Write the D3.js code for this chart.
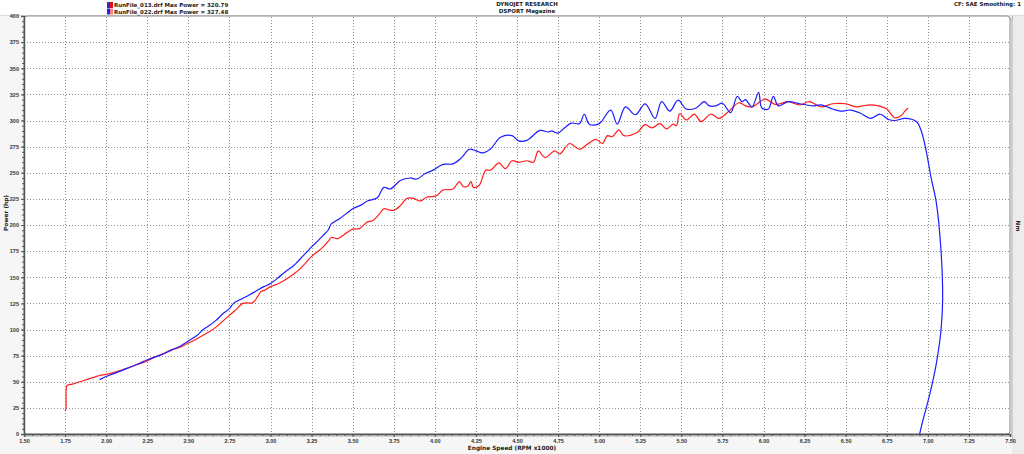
<!DOCTYPE html>
<html><head><meta charset="utf-8">
<script src="https://cdn.jsdelivr.net/npm/d3@7"></script>
<style>
html,body{margin:0;padding:0;background:#fff;}
svg{display:block;font-family:"DejaVu Sans",Verdana,sans-serif;}
</style></head>
<body>
<svg id="c" width="1024" height="454"></svg>
<script>
// ---- data ----
const run013Rpm = [1.750,1.755,1.760,1.770,1.800,1.840,1.880,1.920,1.960,2.000,2.050,2.100,2.130,2.180,2.250,2.300,2.350,2.390,2.450,2.500,2.550,2.590,2.630,2.670,2.710,2.750,2.790,2.830,2.860,2.890,2.920,2.940,2.970,3.000,3.050,3.100,3.140,3.180,3.210,3.250,3.300,3.320,3.350,3.370,3.410,3.450,3.500,3.540,3.590,3.620,3.660,3.690,3.720,3.750,3.790,3.830,3.870,3.910,3.950,4.010,4.050,4.110,4.150,4.170,4.200,4.220,4.235,4.270,4.310,4.340,4.390,4.430,4.470,4.510,4.560,4.600,4.630,4.670,4.730,4.760,4.820,4.880,4.930,4.980,5.020,5.050,5.080,5.120,5.150,5.230,5.280,5.320,5.370,5.410,5.450,5.470,5.490,5.530,5.580,5.620,5.680,5.730,5.790,5.850,5.890,5.930,6.010,6.070,6.100,6.150,6.220,6.280,6.350,6.420,6.500,6.560,6.600,6.650,6.700,6.750,6.800,6.840,6.860,6.880];
const run013Hp  = [22,24,46,47,48,50,52,54,56,57,59,61.5,63,66,70,74,77,80,83,87,91,94.5,98,102.5,108,113.5,119,125,125.5,125.5,131,136,138,141,144,148.5,153,158,163,170,176,179,184,188,187,191,196,196.5,203,204,210,215.5,214.5,214,218.5,225.5,225.5,223,226.5,228,233.5,234.5,241.5,237,237,241.5,236,238,252.5,252.5,259.5,254,261.5,260,261.5,260,271,264.5,271,268,278,272.5,277.5,282,278,285.5,284.5,291,285.5,288.5,296,293,297,292,296.5,295,306.5,300.5,306,299,306,302,309,317,314,313,320.5,315.5,316,318,315,318,313,316,316,313,314,315,314,311,302.5,305,309,312];
const run022Rpm = [1.960,2.000,2.050,2.130,2.200,2.250,2.330,2.400,2.450,2.500,2.550,2.590,2.630,2.670,2.710,2.750,2.775,2.820,2.870,2.920,2.960,3.000,3.050,3.100,3.140,3.180,3.220,3.250,3.290,3.320,3.350,3.370,3.420,3.470,3.500,3.550,3.590,3.650,3.690,3.730,3.790,3.850,3.890,3.940,3.990,4.050,4.110,4.160,4.210,4.250,4.290,4.340,4.400,4.470,4.510,4.560,4.640,4.690,4.710,4.750,4.790,4.830,4.880,4.910,4.940,5.000,5.070,5.110,5.160,5.220,5.280,5.340,5.380,5.430,5.480,5.530,5.590,5.640,5.670,5.710,5.750,5.800,5.840,5.870,5.890,5.930,5.970,5.990,6.030,6.060,6.090,6.150,6.220,6.300,6.350,6.420,6.470,6.530,6.590,6.650,6.710,6.760,6.800,6.860,6.930,6.960,6.990,7.020,7.050,7.080,7.090,7.080,7.050,7.010,6.970,6.950];
const run022Hp  = [52,55,58,63,67.5,71,75.5,80.5,84,89,94,100,104,109,115,120,125,129,133,137.5,141,144,150,156.5,161,167.5,174,179,185,190,195,201,206,212,215.5,219,223,226,236,234.5,242.5,245,244,249,252.5,258,258.5,264,272.5,271,269,273,284,285.5,280.5,281,290.5,289,290,288,293,297.5,297,306,296.5,297,310,296.5,313,305.5,316,302,318,309,319.5,311,312,318,314,314,316.5,307.5,323,318,320,313,327,312,311,323,314,318,316,314,315,311,309,310,307,302,306,301,300,302,299,290,271,245,223,176,128,99,66,37,13,0];
const xTicks = [1.50,1.75,2.00,2.25,2.50,2.75,3.00,3.25,3.50,3.75,4.00,4.25,4.50,4.75,5.00,5.25,5.50,5.75,6.00,6.25,6.50,6.75,7.00,7.25,7.50];
const yTicks = [0,25,50,75,100,125,150,175,200,225,250,275,300,325,350,375,400];
const legendNames = ["RunFile_013.drf Max Power = 320.79","RunFile_022.drf Max Power = 327.48"];
const seriesColors = ["#ff1c1c","#1c1cff"];

// ---- layout ----
const svg = d3.select("#c");
const L = 24, R = 1010, T = 16, B = 434;
const x = d3.scaleLinear().domain([1.5,7.5]).range([L,R]);
const y = d3.scaleLinear().domain([0,400]).range([B,T]);

// backgrounds
svg.append("rect").attr("width",1024).attr("height",454).attr("fill","#f6f6f6");
svg.append("rect").attr("width",1024).attr("height",15).attr("fill","#ffffff");
svg.append("line").attr("x1",0).attr("x2",1024).attr("y1",15.5).attr("y2",15.5).attr("stroke","#dcdcdc");
// right panel
svg.append("rect").attr("x",1012).attr("y",16).attr("width",12).attr("height",438).attr("fill","#ececec");
svg.append("line").attr("x1",1012.5).attr("x2",1012.5).attr("y1",16).attr("y2",440).attr("stroke","#b0b0b0");
// plot area with shadow
svg.append("path").attr("d",`M${L},${T+1} H${R-4} Q${R+2},${T+1} ${R+2},${T+6} V${B+2} H${L}`).attr("fill","none").attr("stroke","#cfcfcf").attr("stroke-width",2);
svg.append("rect").attr("x",L).attr("y",T).attr("width",R-L).attr("height",B-T).attr("rx",3).attr("fill","#ffffff").attr("stroke","#8a8a8a").attr("stroke-width",1);

// grid
const g = svg.append("g");
g.selectAll(".vg").data(xTicks.slice(1,-1)).join("line")
  .attr("x1",d=>Math.round(x(d))+0.5).attr("x2",d=>Math.round(x(d))+0.5)
  .attr("y1",T+1).attr("y2",B).attr("stroke","#909090").attr("stroke-dasharray","1,2");
g.selectAll(".hg").data(yTicks.slice(1,-1)).join("line")
  .attr("y1",d=>Math.round(y(d))+0.5).attr("y2",d=>Math.round(y(d))+0.5)
  .attr("x1",L).attr("x2",R).attr("stroke","#909090").attr("stroke-dasharray","1,2");

// axes
const fmt = d3.format(".2f");
const xAxis = d3.axisBottom(x).tickValues(xTicks).tickFormat(fmt).tickSize(3).tickPadding(2);
svg.append("g").attr("transform",`translate(0,${B})`).call(xAxis);
const xMinor = d3.axisBottom(x).tickValues(d3.range(1.5,7.5001,0.05)).tickFormat("").tickSize(2);
svg.append("g").attr("transform",`translate(0,${B})`).call(xMinor).call(s=>s.select(".domain").remove());
const yAxis = d3.axisLeft(y).tickValues(yTicks).tickFormat(d3.format("d")).tickSize(3).tickPadding(2);
svg.append("g").attr("transform",`translate(${L},0)`).call(yAxis);
const yMinor = d3.axisLeft(y).tickValues(d3.range(0,401,5)).tickFormat("").tickSize(2);
svg.append("g").attr("transform",`translate(${L},0)`).call(yMinor).call(s=>s.select(".domain").remove());
svg.selectAll(".tick line").attr("stroke","#555");
svg.selectAll(".domain").attr("stroke","#555").attr("stroke-width",1.5);
svg.selectAll(".tick text").attr("font-size",5.5).attr("fill","#333").attr("font-weight","bold");

// lines
const line = d3.line().x(d=>x(d[0])).y(d=>y(d[1])).curve(d3.curveCatmullRom.alpha(0.5));
const s013 = run013Rpm.map((r,i)=>[r,run013Hp[i]]);
const s022 = run022Rpm.map((r,i)=>[r,run022Hp[i]]);
svg.append("path").datum(s013).attr("d",line).attr("fill","none").attr("stroke",seriesColors[0]).attr("stroke-width",1.2);
svg.append("path").datum(s022).attr("d",line).attr("fill","none").attr("stroke",seriesColors[1]).attr("stroke-width",1.2);

// titles
const txt = (xx,yy,t,anchor,size)=>svg.append("text").attr("x",xx).attr("y",yy).attr("text-anchor",anchor||"start")
  .attr("font-size",size||5.5).attr("font-weight","bold").attr("fill","#222").text(t);
txt(527,6,"DYNOJET RESEARCH","middle");
txt(527,12.5,"DSPORT Magazine","middle");
txt(1021,6,"CF: SAE  Smoothing: 1","end");
txt(512,450,"Engine Speed (RPM x1000)","middle",5.8);
svg.append("text").attr("transform","translate(8,213) rotate(-90)").attr("text-anchor","middle")
  .attr("font-size",5.8).attr("font-weight","bold").attr("fill","#222").text("Power (hp)");
svg.append("text").attr("transform","translate(1016,226) rotate(90)").attr("text-anchor","middle")
  .attr("font-size",5.8).attr("font-weight","bold").attr("fill","#222").text("Nm");

// legend
legendNames.forEach((n,i)=>{
  const yy = 2 + i*6.5;
  svg.append("rect").attr("x",107).attr("y",yy).attr("width",3).attr("height",6).attr("fill", i===0?"#3030c0":"#2020ff");
  svg.append("rect").attr("x",110).attr("y",yy).attr("width",3).attr("height",6).attr("fill", i===0?"#e01010":"#ff8080");
  txt(114,yy+5,n,"start",5.5);
});
</script>
</body></html>
